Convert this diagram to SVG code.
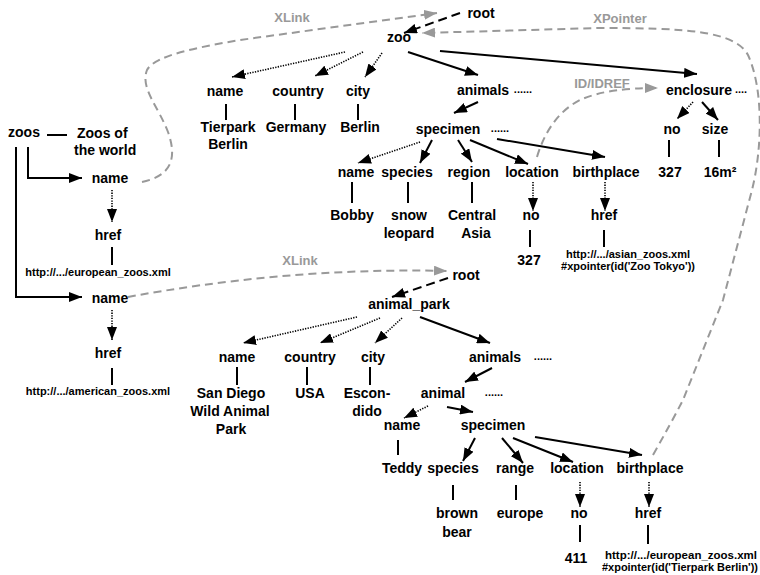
<svg xmlns="http://www.w3.org/2000/svg" width="760" height="575" viewBox="0 0 760 575">
<defs>
<style>
text{font-family:"Liberation Sans",Arial,sans-serif;font-weight:bold;font-size:14px;fill:#000;text-anchor:middle}
text.s{font-size:11px}
text.st{text-anchor:start}
text.l{font-size:13px;fill:#999}
text.d{font-size:11px}
.c{fill:none;stroke:#000;stroke-width:2}
.dot{fill:none;stroke:#000;stroke-width:1.6;stroke-dasharray:1.3 1.3}
.dash{fill:none;stroke:#000;stroke-width:2;stroke-dasharray:9 5}
.g{fill:none;stroke:#999;stroke-width:2;stroke-dasharray:8 5}
</style>
<marker id="a" markerUnits="userSpaceOnUse" markerWidth="13" markerHeight="10" viewBox="0 0 13 10" refX="13" refY="5" orient="auto"><path d="M0,0L13,5L0,10z" fill="#000"/></marker>
<marker id="ag" markerUnits="userSpaceOnUse" markerWidth="13" markerHeight="10" viewBox="0 0 13 10" refX="13" refY="5" orient="auto"><path d="M0,0L13,5L0,10z" fill="#999"/></marker>
</defs>

<g id="connectors">
<!-- left -->
<line class="c" x1="47" y1="135" x2="67" y2="135"/>
<path class="c" d="M28,147V178H82" marker-end="url(#a)"/>
<path class="c" d="M16,147V297H82" marker-end="url(#a)"/>
<line class="dot" x1="112" y1="190" x2="112" y2="222" marker-end="url(#a)"/>
<line class="c" x1="112" y1="247" x2="112" y2="265"/>
<line class="dot" x1="112" y1="310" x2="112" y2="340" marker-end="url(#a)"/>
<line class="c" x1="112" y1="368" x2="112" y2="385"/>
<!-- top tree -->
<line class="dash" x1="460" y1="13" x2="404" y2="33" marker-end="url(#a)"/>
<line class="dot" x1="345" y1="52" x2="232" y2="77" marker-end="url(#a)"/>
<line class="dot" x1="363" y1="52" x2="315" y2="76" marker-end="url(#a)"/>
<line class="dot" x1="382" y1="53" x2="365" y2="77" marker-end="url(#a)"/>
<line class="c" x1="408" y1="52" x2="478" y2="75" marker-end="url(#a)"/>
<line class="c" x1="440" y1="51" x2="697" y2="74" marker-end="url(#a)"/>
<line class="c" x1="226" y1="104" x2="226" y2="120"/>
<line class="c" x1="295" y1="104" x2="295" y2="120"/>
<line class="c" x1="358" y1="104" x2="358" y2="120"/>
<line class="c" x1="478" y1="102" x2="454" y2="113" marker-end="url(#a)"/>
<line class="dot" x1="693" y1="102" x2="677" y2="119" marker-end="url(#a)"/>
<line class="c" x1="702" y1="102" x2="718" y2="120" marker-end="url(#a)"/>
<line class="c" x1="669" y1="140" x2="669" y2="157"/>
<line class="c" x1="719" y1="140" x2="719" y2="157"/>
<line class="dot" x1="420" y1="142" x2="358" y2="163" marker-end="url(#a)"/>
<line class="c" x1="432" y1="140" x2="420" y2="163" marker-end="url(#a)"/>
<line class="c" x1="458" y1="140" x2="472" y2="162" marker-end="url(#a)"/>
<line class="c" x1="470" y1="140" x2="528" y2="164" marker-end="url(#a)"/>
<line class="c" x1="497" y1="139" x2="605" y2="157" marker-end="url(#a)"/>
<line class="c" x1="352" y1="182" x2="352" y2="203"/>
<line class="c" x1="408" y1="182" x2="408" y2="203"/>
<line class="c" x1="472" y1="182" x2="472" y2="203"/>
<line class="dot" x1="533" y1="182" x2="533" y2="211" marker-end="url(#a)"/>
<line class="dot" x1="605" y1="182" x2="605" y2="211" marker-end="url(#a)"/>
<line class="c" x1="530" y1="230" x2="530" y2="247"/>
<line class="c" x1="604" y1="230" x2="604" y2="247"/>
<!-- bottom tree -->
<line class="dash" x1="448" y1="278" x2="392" y2="297" marker-end="url(#a)"/>
<line class="dot" x1="357" y1="317" x2="243" y2="343" marker-end="url(#a)"/>
<line class="dot" x1="380" y1="318" x2="320" y2="343" marker-end="url(#a)"/>
<line class="dot" x1="402" y1="318" x2="375" y2="343" marker-end="url(#a)"/>
<line class="c" x1="420" y1="317" x2="490" y2="343" marker-end="url(#a)"/>
<line class="c" x1="237" y1="367" x2="237" y2="385"/>
<line class="c" x1="307" y1="367" x2="307" y2="385"/>
<line class="c" x1="370" y1="367" x2="370" y2="385"/>
<line class="c" x1="492" y1="368" x2="465" y2="382" marker-end="url(#a)"/>
<line class="dot" x1="428" y1="406" x2="404" y2="418" marker-end="url(#a)"/>
<line class="c" x1="447" y1="407" x2="473" y2="412" marker-end="url(#a)"/>
<line class="c" x1="398" y1="440" x2="398" y2="455"/>
<line class="c" x1="475" y1="438" x2="463" y2="461" marker-end="url(#a)"/>
<line class="c" x1="502" y1="438" x2="523" y2="463" marker-end="url(#a)"/>
<line class="c" x1="513" y1="438" x2="573" y2="462" marker-end="url(#a)"/>
<line class="c" x1="535" y1="437" x2="642" y2="455" marker-end="url(#a)"/>
<line class="c" x1="453" y1="485" x2="453" y2="500"/>
<line class="c" x1="516" y1="485" x2="516" y2="500"/>
<line class="dot" x1="580" y1="482" x2="580" y2="507" marker-end="url(#a)"/>
<line class="dot" x1="649" y1="482" x2="649" y2="507" marker-end="url(#a)"/>
<line class="c" x1="580" y1="525" x2="580" y2="542"/>
<line class="c" x1="648" y1="525" x2="648" y2="544"/>
<!-- links -->
<path class="g" d="M142,182C170,176 178,160 168,132C158,106 140,88 147,70C155,55 200,47 240,40L437,13" marker-end="url(#ag)"/>
<path class="g" d="M128,297C220,280 330,268 447,271" marker-end="url(#ag)"/>
<path class="g" d="M653,455Q670,425 683,400L723,300L752,190C762,150 764,90 748,55C735,30 680,28 600,28L422,33" marker-end="url(#ag)"/>
<path class="g" d="M537,157C545,130 560,110 580,100C600,91 625,88 658,88" marker-end="url(#ag)"/>
</g>

<g id="labels">
<text class="l" x="292" y="22">XLink</text>
<text class="l" x="620" y="23">XPointer</text>
<text class="l" x="602" y="88">ID/IDREF</text>
<text class="l" x="300" y="265">XLink</text>
</g>

<g id="n-zoos"><text x="24" y="137">zoos</text></g>
<g id="n-zoos-title"><text class="st" x="77" y="138">Zoos of</text><text class="st" x="74" y="155">the world</text></g>
<g id="n-name1"><text x="110" y="183">name</text></g>
<g id="n-href1"><text x="108" y="240">href</text></g>
<g id="n-url1"><text class="s" x="98" y="276">http://.../european_zoos.xml</text></g>
<g id="n-name2"><text x="110" y="303">name</text></g>
<g id="n-href2"><text x="108" y="358">href</text></g>
<g id="n-url2"><text class="s" x="98" y="395">http://.../american_zoos.xml</text></g>

<g id="n-root1"><text x="481" y="18">root</text></g>
<g id="n-zoo"><text x="399" y="42">zoo</text></g>
<g id="n-z-name"><text x="225" y="96">name</text></g>
<g id="n-z-country"><text x="298" y="96">country</text></g>
<g id="n-z-city"><text x="358" y="96">city</text></g>
<g id="n-z-animals"><text x="483" y="95">animals</text><text class="d" x="523" y="93">......</text></g>
<g id="n-enclosure"><text x="699" y="95">enclosure</text><text class="d" x="741" y="93">....</text></g>
<g id="v-tierpark"><text x="228" y="132">Tierpark</text><text x="228" y="149">Berlin</text></g>
<g id="v-germany"><text x="296" y="132">Germany</text></g>
<g id="v-berlin"><text x="360" y="132">Berlin</text></g>
<g id="n-specimen1"><text x="448" y="134">specimen</text><text class="d" x="500" y="132">......</text></g>
<g id="n-enc-no"><text x="672" y="134">no</text></g>
<g id="n-enc-size"><text x="715" y="134">size</text></g>
<g id="v-327a"><text x="670" y="177">327</text></g>
<g id="v-16m2"><text x="720" y="177">16m²</text></g>
<g id="n-s-name"><text x="356" y="177">name</text></g>
<g id="n-s-species"><text x="407" y="177">species</text></g>
<g id="n-s-region"><text x="469" y="177">region</text></g>
<g id="n-s-location"><text x="532" y="177">location</text></g>
<g id="n-s-birthplace"><text x="606" y="177">birthplace</text></g>
<g id="v-bobby"><text x="352" y="220">Bobby</text></g>
<g id="v-snow"><text x="409" y="220">snow</text><text x="409" y="238">leopard</text></g>
<g id="v-central"><text x="472" y="220">Central</text><text x="476" y="238">Asia</text></g>
<g id="n-loc-no"><text x="531" y="220">no</text></g>
<g id="n-bp-href"><text x="604" y="220">href</text></g>
<g id="v-327b"><text x="529" y="265">327</text></g>
<g id="v-url3"><text class="s" x="628" y="258">http://.../asian_zoos.xml</text><text class="s" x="628" y="270">#xpointer(id('Zoo Tokyo'))</text></g>

<g id="n-root2"><text x="466" y="280">root</text></g>
<g id="n-animal-park"><text x="409" y="309">animal_park</text></g>
<g id="n-p-name"><text x="237" y="362">name</text></g>
<g id="n-p-country"><text x="310" y="362">country</text></g>
<g id="n-p-city"><text x="373" y="362">city</text></g>
<g id="n-p-animals"><text x="495" y="362">animals</text><text class="d" x="543" y="360">......</text></g>
<g id="v-sandiego"><text x="231" y="398">San Diego</text><text x="230" y="416">Wild Animal</text><text x="231" y="434">Park</text></g>
<g id="v-usa"><text x="310" y="398">USA</text></g>
<g id="v-escondido"><text x="367" y="398">Escon-</text><text x="367" y="416">dido</text></g>
<g id="n-animal"><text x="443" y="398">animal</text><text class="d" x="494" y="396">......</text></g>
<g id="n-a-name"><text x="402" y="430">name</text></g>
<g id="n-specimen2"><text x="493" y="430">specimen</text></g>
<g id="v-teddy"><text x="402" y="473">Teddy</text></g>
<g id="n-b-species"><text x="453" y="473">species</text></g>
<g id="n-b-range"><text x="515" y="473">range</text></g>
<g id="n-b-location"><text x="577" y="473">location</text></g>
<g id="n-b-birthplace"><text x="650" y="473">birthplace</text></g>
<g id="v-brownbear"><text x="457" y="518">brown</text><text x="457" y="537">bear</text></g>
<g id="v-europe"><text x="520" y="518">europe</text></g>
<g id="n-b-no"><text x="579" y="518">no</text></g>
<g id="n-b-href"><text x="648" y="518">href</text></g>
<g id="v-411"><text x="576" y="563">411</text></g>
<g id="v-url4"><text class="s st" x="605" y="559" textLength="152" lengthAdjust="spacingAndGlyphs">http://.../european_zoos.xml</text><text class="s st" x="602" y="571" textLength="156" lengthAdjust="spacingAndGlyphs">#xpointer(id('Tierpark Berlin'))</text></g>
</svg>
